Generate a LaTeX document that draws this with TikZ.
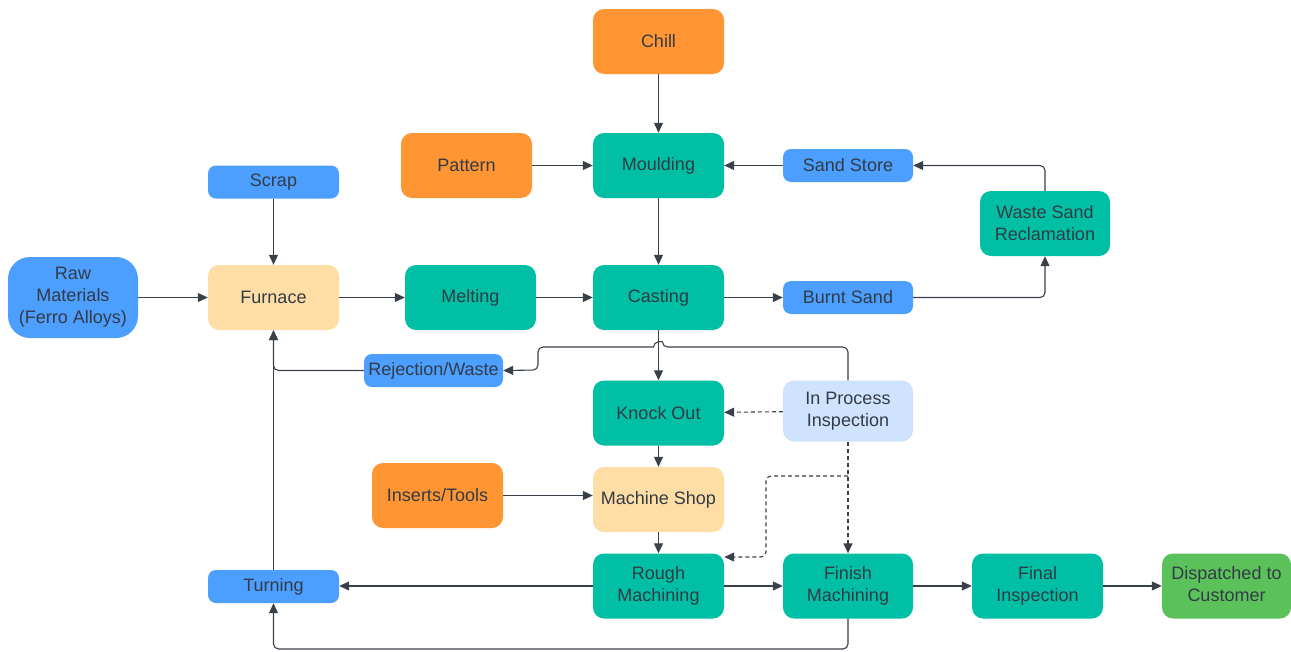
\documentclass[tikz,border=0pt]{standalone}
\usepackage{fontspec}
\setmainfont{Liberation Sans}
\usetikzlibrary{arrows.meta}
\definecolor{teal1}{HTML}{00BFA5}
\definecolor{blue1}{HTML}{4C9EFF}
\definecolor{orange1}{HTML}{FF9533}
\definecolor{lorange}{HTML}{FFDEA6}
\definecolor{lblue}{HTML}{CFE3FF}
\definecolor{green1}{HTML}{5BC25B}
\definecolor{txt}{HTML}{333B45}
\definecolor{ln}{HTML}{3A4049}
\tikzset{
  box/.style={rounded corners=11pt, minimum width=131pt, minimum height=65pt, align=center, inner sep=0pt, text=txt, font=\fontsize{18}{22}\selectfont},
  sbox/.style={box, rounded corners=8pt, minimum height=33pt},
  tl/.style={box, fill=teal1},
  bl/.style={sbox, fill=blue1},
  conn/.style={draw=ln, line width=1.1pt, -{Triangle[width=9pt,length=10pt]}},
  dconn/.style={conn, dashed, dash pattern=on 4pt off 3pt},
  rc/.style={rounded corners=5pt},
}
\begin{document}
\begin{tikzpicture}[x=1pt,y=-1pt]
\useasboundingbox (0,0) rectangle (1291,651);
\node[box, fill=orange1] (chill) at (658.5,41.5) {Chill};
\node[tl] (mould) at (658.5,165.5) {Moulding};
\node[box, fill=orange1] (pattern) at (466.5,165.5) {Pattern};
\node[bl, minimum width=130pt] (sand) at (848,165.5) {Sand Store};
\node[bl] (scrap) at (273.5,182) {Scrap};
\node[tl, minimum width=130pt] (wsr) at (1045,223.5) {Waste Sand\\Reclamation};
\node[box, fill=blue1, minimum width=130pt, minimum height=81pt, rounded corners=22pt] (raw) at (73,297.5) {Raw\\Materials\\(Ferro Alloys)};
\node[box, fill=lorange] (furn) at (273.5,297.5) {Furnace};
\node[tl] (melt) at (470.5,297.5) {Melting};
\node[tl] (cast) at (658.5,297.5) {Casting};
\node[bl, minimum width=130pt] (burnt) at (848,297.5) {Burnt Sand};
\node[bl, minimum width=139pt] (rej) at (433.5,370.5) {Rejection/Waste};
\node[tl] (ko) at (658.5,413) {Knock Out};
\node[box, fill=lblue, minimum width=130pt, minimum height=61pt] (ipi) at (848,411) {In Process\\Inspection};
\node[box, fill=orange1] (ins) at (437.5,495.5) {Inserts/Tools};
\node[box, fill=lorange] (ms) at (658.5,499.5) {Machine Shop};
\node[bl] (turn) at (273.5,586.5) {Turning};
\node[tl] (rough) at (658.5,586) {Rough\\Machining};
\node[tl, minimum width=130pt] (finish) at (848,586) {Finish\\Machining};
\node[tl] (final) at (1037.5,586) {Final\\Inspection};
\node[box, fill=green1, minimum width=129pt] (disp) at (1226.5,586) {Dispatched to\\Customer\vphantom{p}};
% connectors
\draw[conn] (chill) -- (mould);
\draw[conn] (pattern) -- (mould);
\draw[conn] (sand) -- (mould);
\draw[conn] (mould) -- (cast);
\draw[conn] (scrap) -- (furn);
\draw[conn] (raw) -- (furn);
\draw[conn] (furn) -- (melt);
\draw[conn] (melt) -- (cast);
\draw[conn] (cast) -- (burnt);
\draw[conn, rc] (burnt.east) -| (wsr.south);
\draw[conn, rc] (wsr.north) |- (sand.east);
\draw[conn] (cast) -- (ko);
\coordinate (h1) at (662.5,347);
\coordinate (h2) at (653.5,347);
\draw[conn] (ipi.north) [rc] -- (848,347) -- (h1) [sharp corners] .. controls (662.5,341) and (653.5,341) .. (h2) [rc] -- (538,347) -- (538,370) -- (rej.east);
\draw[conn] (turn) -- (furn);
\draw[conn, rc] (rej.west) -| (furn.south);
\draw[dconn] (ipi) -- (ko);
\draw[conn] (ko) -- (ms);
\draw[conn] (ins.east) -- (ins.east -| ms.west);
\draw[conn] (ms) -- (rough);
\draw[dconn] (ipi.south) -- (finish.north);
\draw[dconn, rc] (848,476) -- (766,476) -- (766,557) -- (rough.east |- 0,557);
\draw[conn] (rough.west) -- (rough.west -| turn.east);
\draw[conn] (rough) -- (finish);
\draw[conn] (finish) -- (final);
\draw[conn] (final) -- (disp);
\draw[conn, rc] (finish.south) -- (848,649) -| (turn.south);
\end{tikzpicture}
\end{document}
